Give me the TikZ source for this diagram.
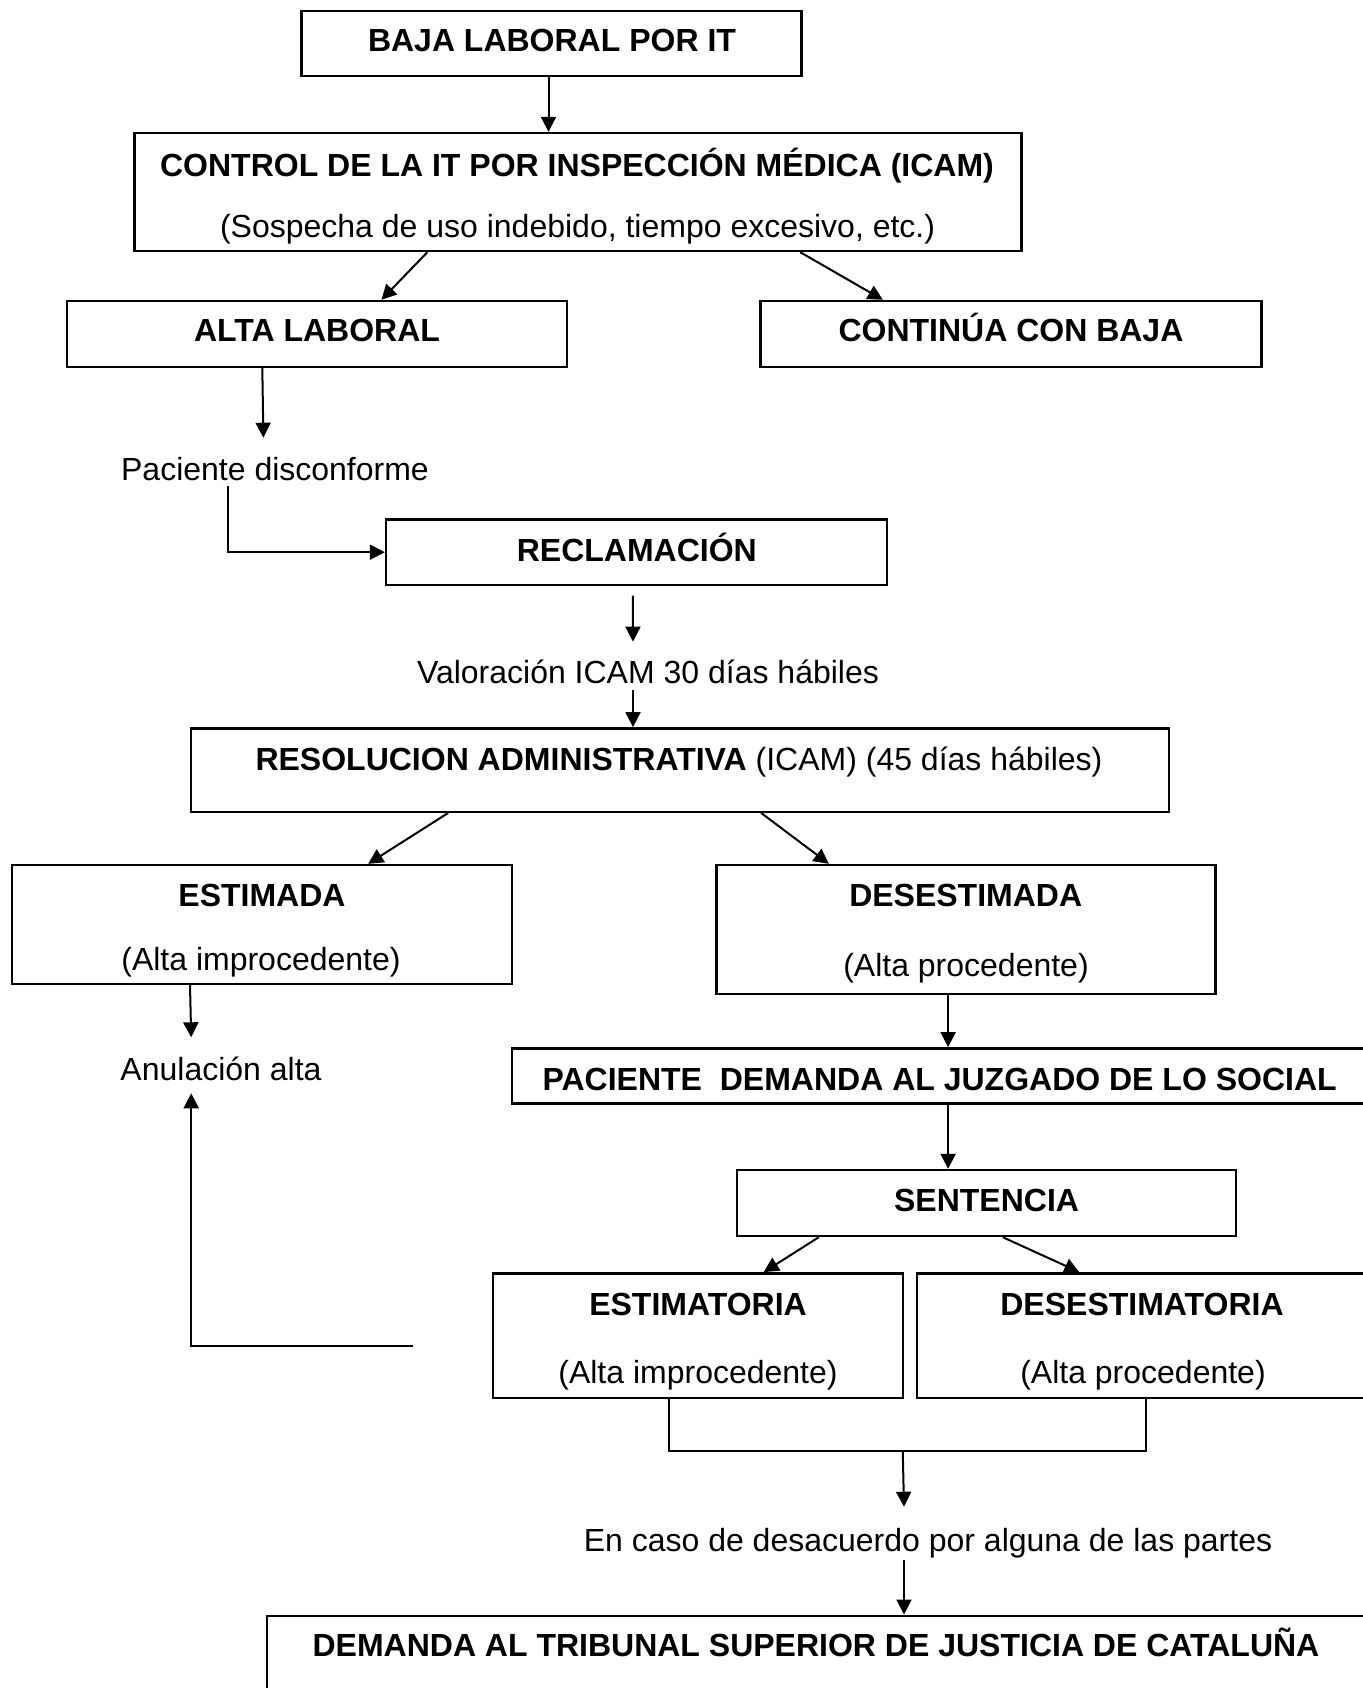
\documentclass[tikz,border=0pt]{standalone}
\usepackage{fontspec}
\setmainfont{Liberation Sans}
\usetikzlibrary{arrows.meta,calc}
\begin{document}
\begin{tikzpicture}[x=0.5pt,y=-0.5pt,
  bx/.style={draw, line width=1.2pt, inner sep=0pt, rectangle},
  tb/.style={anchor=base, inner sep=0pt, font=\fontsize{16pt}{19pt}\selectfont\bfseries},
  tr/.style={anchor=base, inner sep=0pt, font=\fontsize{16pt}{19pt}\selectfont},
  ln/.style={line width=1pt},
  arr/.style={line width=1pt, -{Triangle[length=7.5pt,width=7.5pt]}}]
\useasboundingbox (0,0) rectangle (1363,1688);
\clip (0,0) rectangle (1363,1688);
\fill[white] (0,0) rectangle (1363,1688);

% boxes
\node[bx, minimum width=250pt, minimum height=32.5pt] (baja) at (551.5,43.5) {};
\node[tb] (bajaT) at (552,51.7) {BAJA LABORAL POR IT};

\node[bx, minimum width=443.35pt, minimum height=59pt] (ctrl) at (578,192) {};
\node[tb] (ctrlA) at (577,176.7) {CONTROL DE LA IT POR INSPECCIÓN MÉDICA (ICAM)};
\node[tr] (ctrlB) at (577.6,237.3) {(Sospecha de uso indebido, tiempo excesivo, etc.)};

\node[bx, minimum width=249.9pt, minimum height=33pt] (alta) at (317,334) {};
\node[tb] (altaT) at (317,341.7) {ALTA LABORAL};

\node[bx, minimum width=250.35pt, minimum height=33pt] (cont) at (1011,334) {};
\node[tb] (contT) at (1011,341.7) {CONTINÚA CON BAJA};

\node[tr] (pacT) at (275,480.5) {Paciente disconforme};

\node[bx, minimum width=250.35pt, minimum height=32.85pt] (recl) at (636.4,552.2) {};
\node[tb] (reclT) at (636.8,561.7) {RECLAMACIÓN};

\node[tr] (valT) at (648,683.2) {Valoración ICAM 30 días hábiles};

\node[bx, minimum width=488.9pt, minimum height=41.7pt] (res) at (680.1,770) {};
\node[tr] (resT) at (679,770) {\textbf{RESOLUCION ADMINISTRATIVA} (ICAM) (45 días hábiles)};

\node[bx, minimum width=249.9pt, minimum height=59.5pt] (est) at (262.1,924.5) {};
\node[tb] (estA) at (262,906.7) {ESTIMADA};
\node[tr] (estB) at (261,970) {(Alta improcedente)};

\node[bx, minimum width=249.5pt, minimum height=64.5pt] (des) at (965.8,929.5) {};
\node[tb] (desA) at (965.7,906.7) {DESESTIMADA};
\node[tr] (desB) at (966,976.7) {(Alta procedente)};

\node[tr] (anulT) at (221,1080.8) {Anulación alta};

\node[bx, minimum width=427.5pt, minimum height=27.5pt] (pacd) at (939.5,1075.8) {};
\node[tb] (pacdT) at (939.7,1090) {PACIENTE\ \ DEMANDA AL JUZGADO DE LO SOCIAL};

\node[bx, minimum width=249.5pt, minimum height=33pt] (sent) at (986.5,1203) {};
\node[tb] (sentT) at (986.6,1211.7) {SENTENCIA};

\node[bx, minimum width=205.15pt, minimum height=62.2pt] (estm) at (698,1335.5) {};
\node[tb] (estmA) at (698,1315) {ESTIMATORIA};
\node[tr] (estmB) at (698,1383.3) {(Alta improcedente)};

\node[bx, minimum width=225pt, minimum height=62.2pt] (desm) at (1142,1335.5) {};
\node[tb] (desmA) at (1142,1315) {DESESTIMATORIA};
\node[tr] (desmB) at (1143,1383.3) {(Alta procedente)};

\node[tr] (casoT) at (928,1551.5) {En caso de desacuerdo por alguna de las partes};

\node[bx, minimum width=549.5pt, minimum height=57.15pt] (dem) at (816.5,1672.85) {};
\node[tb] (demT) at (816,1656.7) {DEMANDA AL TRIBUNAL SUPERIOR DE JUSTICIA DE CATALUÑA};

% connectors
\draw[arr] ($(baja.south)+(-3,0)$) coordinate (b1) -- (b1 |- ctrl.north);
\draw[arr] ($(ctrl.south west)+(293.9,0)$) -- ($(alta.north west)+(315.5,0)$);
\draw[arr] ($(ctrl.south west)+(666.8,0)$) -- ($(cont.north west)+(123.4,0)$);
\draw[arr] ($(alta.south west)+(196.4,0)$) -- ($(pacT.base)+(-11.6,-42.8)$);
\draw[arr] ($(pacT.base)+(-47.2,5.5)$) |- (recl.west);
\draw[arr] ($(recl.south)+(-3.6,9.3)$) -- ($(valT.base)+(-15,-41.5)$);
\draw[arr] ($(valT.base)+(-15,6.8)$) coordinate (v2) -- (v2 |- res.north);
\draw[arr] ($(res.south west)+(258.2,0)$) -- ($(est.north west)+(357.2,0)$);
\draw[arr] ($(res.south west)+(571.1,0)$) -- ($(des.north west)+(113.7,0)$);
\draw[arr] ($(est.south west)+(179,0)$) -- ($(anulT.base)+(-29.8,-43.5)$);
\draw[arr] ($(des.south west)+(233,0)$) coordinate (d1) -- (d1 |- pacd.north);
\draw[arr] ($(pacd.south west)+(437.3,0)$) coordinate (p1) -- (p1 |- sent.north);
\draw[arr] ($(sent.south west)+(83,0)$) -- ($(estm.north west)+(272.1,0)$);
\draw[arr] ($(sent.south west)+(267,0)$) -- ($(desm.north west)+(163.5,0)$);
\coordinate (fb) at (413,1346);
\draw[arr] (fb) -| ($(anulT.base)+(-29.8,12.5)$);
\draw[ln] ($(estm.south west)+(177.3,0)$) -- ++(0,52.3) coordinate (e2) -| ($(desm.south west)+(230.4,0)$);
\draw[arr] ($(e2)+(233.8,0)$) -- ($(casoT.base)+(-24,-44.8)$);
\draw[arr] ($(casoT.base)+(-24,8.5)$) coordinate (c2) -- (c2 |- dem.north);
\end{tikzpicture}
\end{document}
